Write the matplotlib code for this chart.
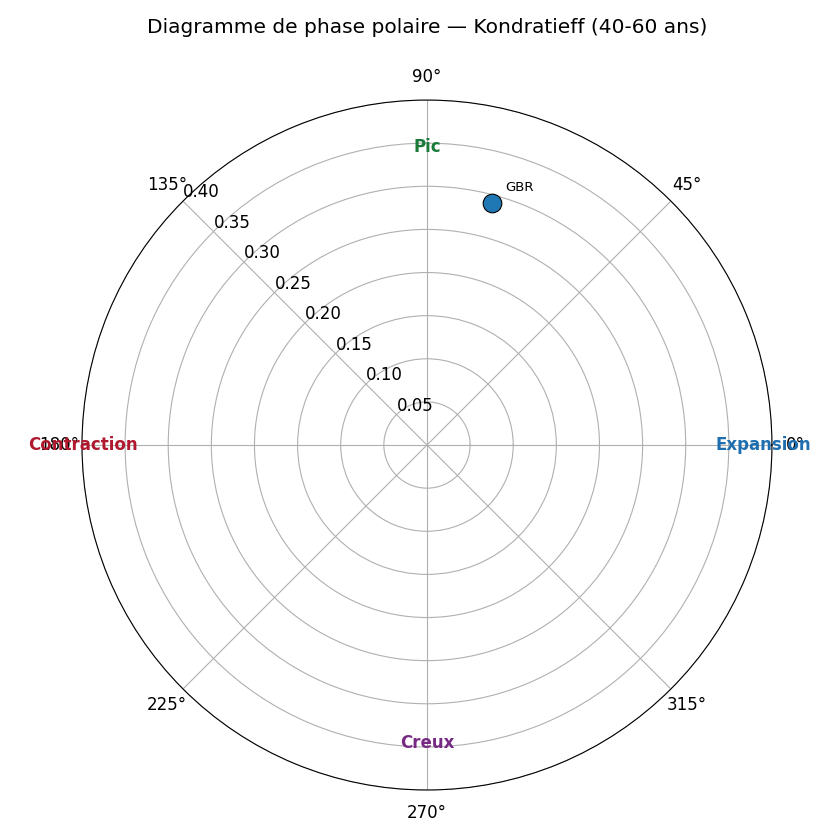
import numpy as np
import matplotlib
matplotlib.use('Agg')
import matplotlib.pyplot as plt

# data
countries = ['GBR']
theta_deg = [75.0]
radius = [0.29]

phase_names = ['Expansion', 'Pic', 'Contraction', 'Creux']
phase_angles = [0, 90, 180, 270]
phase_colors = ['#1f6fb0', '#1a7a3a', '#b0182e', '#762a83']
r_ticks = [0.05, 0.10, 0.15, 0.20, 0.25, 0.30, 0.35, 0.40]

fig = plt.figure(figsize=(8.4, 8.4), dpi=100)
ax = fig.add_axes([0.0976, 0.0595, 0.8214, 0.8214], projection='polar')

ax.scatter(np.deg2rad(theta_deg), radius, s=180, color='#1f77b4',
           edgecolor='black', linewidth=0.8, zorder=3)
for name, t, r in zip(countries, theta_deg, radius):
    ax.annotate(name, (np.deg2rad(t), r), xytext=(10, 9),
                textcoords='offset points', fontsize=9.5)

# phase labels, aligned outward
r_lab = 0.335
aligns = [('left', 'center'), ('center', 'bottom'),
          ('right', 'center'), ('center', 'top')]
for name, a, c, (ha, va) in zip(phase_names, phase_angles, phase_colors, aligns):
    ax.text(np.deg2rad(a), r_lab, name, color=c, fontsize=12,
            fontweight='bold', ha=ha, va=va)

ax.set_ylim(0, 0.40)
ax.set_yticks(r_ticks)
ax.set_yticklabels(['%.2f' % v for v in r_ticks])
ax.set_rlabel_position(135)
ax.tick_params(labelsize=12)
ax.tick_params(axis='x', pad=6)
ax.grid(True, color='#b0b0b0')

fig.suptitle('Diagramme de phase polaire — Kondratieff (40-60 ans)',
             fontsize=14.5, x=0.508, y=0.978, va='top')

plt.savefig('out.png', dpi=100)
